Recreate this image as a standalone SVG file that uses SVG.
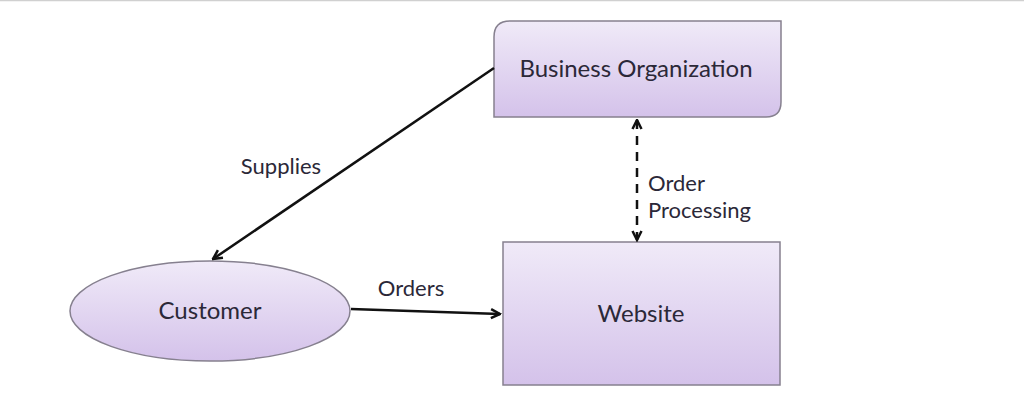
<svg xmlns="http://www.w3.org/2000/svg" width="1024" height="412" viewBox="0 0 1024 412">
<defs>
<linearGradient id="g" x1="0" y1="0" x2="0" y2="1">
<stop offset="0" stop-color="#f0eaf8"/>
<stop offset="1" stop-color="#d4c2ea"/>
</linearGradient>
<marker id="ah" viewBox="0 0 12 12" refX="10.5" refY="6" markerWidth="12" markerHeight="12" markerUnits="userSpaceOnUse" orient="auto-start-reverse">
<path d="M1.5,1.5 L10.5,6 L1.5,10.5" fill="none" stroke="#111" stroke-width="2.5"/>
</marker>
<style>
.n{fill:url(#g);stroke:#86808f;stroke-width:1.5}
.t{font-family:Lato,"Open Sans",sans-serif;fill:#2b2838}
.c{stroke:#111;stroke-width:2.5;fill:none}
</style>
</defs>
<rect width="1024" height="412" fill="#ffffff"/>
<line x1="0" y1="0.5" x2="1024" y2="0.5" stroke="#d0d0d0" stroke-width="1.5"/>
<g id="business">
<path class="n" d="M510,21 H781 V102 Q781,117 766,117 H494 V37 Q494,21 510,21 Z"/>
<text class="t" x="636" y="77" font-size="24" text-anchor="middle">Business Organization</text>
</g>
<g id="customer">
<ellipse class="n" cx="210" cy="311" rx="140" ry="50"/>
<text class="t" x="210" y="319" font-size="24" text-anchor="middle">Customer</text>
</g>
<g id="website">
<rect class="n" x="503" y="242" width="277" height="143"/>
<text class="t" x="641" y="322" font-size="24" text-anchor="middle">Website</text>
</g>
<g id="connectors">
<line class="c" x1="494" y1="68" x2="213" y2="259" marker-end="url(#ah)"/>
<line class="c" x1="351" y1="309" x2="500" y2="314" marker-end="url(#ah)"/>
<line class="c" x1="637" y1="120" x2="637" y2="240" stroke-dasharray="9,7" marker-start="url(#ah)" marker-end="url(#ah)"/>
<text class="t" x="281" y="174" font-size="22" text-anchor="middle">Supplies</text>
<text class="t" x="411" y="296" font-size="22" text-anchor="middle">Orders</text>
<text class="t" x="648" y="191" font-size="22">Order</text>
<text class="t" x="648" y="218" font-size="22">Processing</text>
</g>
</svg>
